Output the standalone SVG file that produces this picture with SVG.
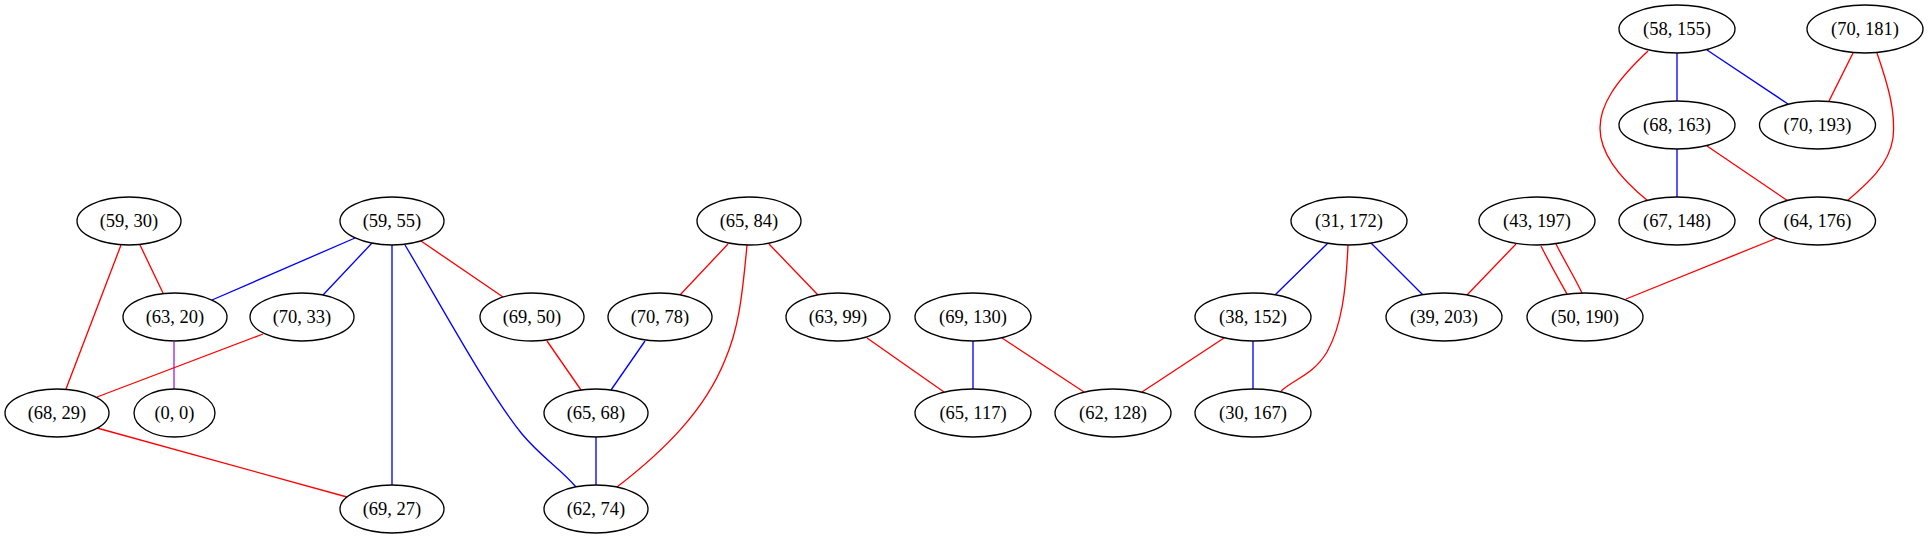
<svg xmlns="http://www.w3.org/2000/svg" width="1929" height="539" viewBox="0 0 1929 539">
<style>
.n ellipse{fill:#fff;stroke:#000;stroke-width:1.33}
.n text{font-family:"Liberation Serif","Times New Roman",serif;font-size:18.5px;text-anchor:middle;fill:#000}
.e path{fill:none;stroke-width:1.33}
.r{stroke:#ff0000}.b{stroke:#0000ff}.p{stroke:#a020f0}
</style>
<rect width="1929" height="539" fill="#fff"/>
<g id="edges" class="e">
<path class="r" d="M140,245 L163,293"/>
<path class="r" d="M121,245 L66,389"/>
<path class="b" d="M355,238 L212,300"/>
<path class="b" d="M372,243 L323,295"/>
<path class="b" d="M392,245 L392,485"/>
<path class="b" d="M405,245 C445,312 488,392 522,434 C542,458 560,468 576,487"/>
<path class="r" d="M421,241 L503,297"/>
<path class="p" d="M174,342 L174,389"/>
<path class="r" d="M263,334 L97,397"/>
<path class="r" d="M97,428 L347,497"/>
<path class="r" d="M728,244 L680,295"/>
<path class="r" d="M769,244 L818,295"/>
<path class="r" d="M747,245 C742,300 738,330 725,360 C705,410 665,450 617,487"/>
<path class="r" d="M547,341 L581,390"/>
<path class="b" d="M645,341 L611,390"/>
<path class="b" d="M596,437 L596,485"/>
<path class="r" d="M867,338 L944,392"/>
<path class="b" d="M973,341 L973,389"/>
<path class="r" d="M1002,338 L1084,392"/>
<path class="b" d="M1328,243 L1275,295"/>
<path class="b" d="M1371,243 L1423,295"/>
<path class="r" d="M1348,245 C1346,290 1342,325 1327,352 C1313,375 1296,378 1281,391"/>
<path class="r" d="M1224,338 L1142,392"/>
<path class="b" d="M1253,341 L1253,389"/>
<path class="r" d="M1516,244 L1467,295"/>
<path class="r" d="M1541,246 C1550,264 1558,278 1567,294"/>
<path class="r" d="M1556,244 C1565,262 1574,276 1582,293"/>
<path class="r" d="M1777,238 L1626,299"/>
<path class="b" d="M1677,53 L1677,101"/>
<path class="b" d="M1707,50 L1788,104"/>
<path class="r" d="M1648,51 C1615,82 1600,105 1600,128 C1600,155 1622,180 1648,201"/>
<path class="r" d="M1853,53 L1829,101"/>
<path class="r" d="M1877,53 C1888,85 1896,112 1893,138 C1889,165 1868,183 1847,201"/>
<path class="b" d="M1677,149 L1677,197"/>
<path class="r" d="M1707,146 L1788,201"/>
</g>
<g id="n1" class="n"><ellipse cx="1677" cy="29" rx="58" ry="24"/><text x="1677" y="35">(58, 155)</text></g>
<g id="n2" class="n"><ellipse cx="1865" cy="29" rx="58" ry="24"/><text x="1865" y="35">(70, 181)</text></g>
<g id="n3" class="n"><ellipse cx="1677" cy="125" rx="58" ry="24"/><text x="1677" y="131">(68, 163)</text></g>
<g id="n4" class="n"><ellipse cx="1817.5" cy="125" rx="58" ry="24"/><text x="1817.5" y="131">(70, 193)</text></g>
<g id="n5" class="n"><ellipse cx="129" cy="221" rx="52" ry="24"/><text x="129" y="227">(59, 30)</text></g>
<g id="n6" class="n"><ellipse cx="392" cy="221" rx="52" ry="24"/><text x="392" y="227">(59, 55)</text></g>
<g id="n7" class="n"><ellipse cx="749" cy="221" rx="52" ry="24"/><text x="749" y="227">(65, 84)</text></g>
<g id="n8" class="n"><ellipse cx="1349" cy="221" rx="58" ry="24"/><text x="1349" y="227">(31, 172)</text></g>
<g id="n9" class="n"><ellipse cx="1537" cy="221" rx="58" ry="24"/><text x="1537" y="227">(43, 197)</text></g>
<g id="n10" class="n"><ellipse cx="1677" cy="221" rx="58" ry="24"/><text x="1677" y="227">(67, 148)</text></g>
<g id="n11" class="n"><ellipse cx="1817.5" cy="221" rx="58" ry="24"/><text x="1817.5" y="227">(64, 176)</text></g>
<g id="n12" class="n"><ellipse cx="175" cy="317" rx="52" ry="24"/><text x="175" y="323">(63, 20)</text></g>
<g id="n13" class="n"><ellipse cx="302" cy="317" rx="52" ry="24"/><text x="302" y="323">(70, 33)</text></g>
<g id="n14" class="n"><ellipse cx="532" cy="317" rx="52" ry="24"/><text x="532" y="323">(69, 50)</text></g>
<g id="n15" class="n"><ellipse cx="660" cy="317" rx="52" ry="24"/><text x="660" y="323">(70, 78)</text></g>
<g id="n16" class="n"><ellipse cx="838" cy="317" rx="52" ry="24"/><text x="838" y="323">(63, 99)</text></g>
<g id="n17" class="n"><ellipse cx="973" cy="317" rx="58" ry="24"/><text x="973" y="323">(69, 130)</text></g>
<g id="n18" class="n"><ellipse cx="1253" cy="317" rx="58" ry="24"/><text x="1253" y="323">(38, 152)</text></g>
<g id="n19" class="n"><ellipse cx="1444" cy="317" rx="58" ry="24"/><text x="1444" y="323">(39, 203)</text></g>
<g id="n20" class="n"><ellipse cx="1585" cy="317" rx="58" ry="24"/><text x="1585" y="323">(50, 190)</text></g>
<g id="n21" class="n"><ellipse cx="57" cy="413" rx="52" ry="24"/><text x="57" y="419">(68, 29)</text></g>
<g id="n22" class="n"><ellipse cx="174.5" cy="413" rx="40.5" ry="24"/><text x="174.5" y="419">(0, 0)</text></g>
<g id="n23" class="n"><ellipse cx="596" cy="413" rx="52" ry="24"/><text x="596" y="419">(65, 68)</text></g>
<g id="n24" class="n"><ellipse cx="973" cy="413" rx="58" ry="24"/><text x="973" y="419">(65, 117)</text></g>
<g id="n25" class="n"><ellipse cx="1113" cy="413" rx="58" ry="24"/><text x="1113" y="419">(62, 128)</text></g>
<g id="n26" class="n"><ellipse cx="1253" cy="413" rx="58" ry="24"/><text x="1253" y="419">(30, 167)</text></g>
<g id="n27" class="n"><ellipse cx="392" cy="509" rx="52" ry="24"/><text x="392" y="515">(69, 27)</text></g>
<g id="n28" class="n"><ellipse cx="596" cy="509" rx="52" ry="24"/><text x="596" y="515">(62, 74)</text></g>
</svg>
